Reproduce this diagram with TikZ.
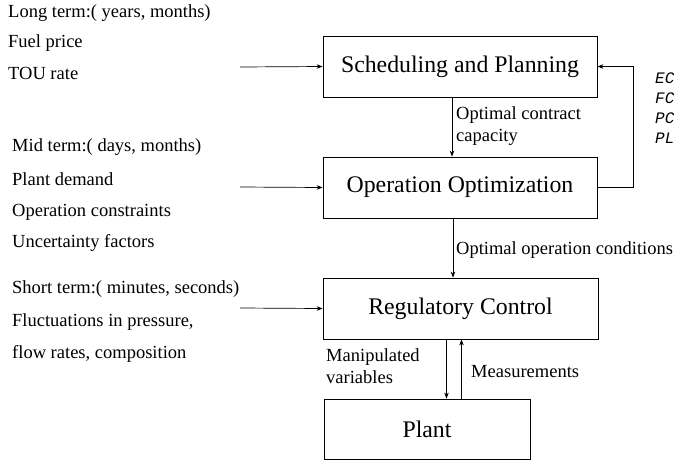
\documentclass[tikz,border=0pt]{standalone}
\usepackage{fontspec}
\setmainfont{Liberation Serif}
\setmonofont{Liberation Mono}
\usetikzlibrary{arrows.meta,calc,positioning}
\tikzstyle{block} = [draw=black, line width=0.8pt, minimum height=61pt, text centered, font=\fontsize{23.8}{26}\selectfont]
\tikzstyle{arrow} = [line width=0.7pt,-{Stealth[length=6pt,width=4.5pt]}]
\tikzstyle{note} = [anchor=west, inner sep=0pt, font=\fontsize{18.5}{22}\selectfont, align=left]
\tikzstyle{var} = [anchor=west, inner sep=0pt, font=\fontsize{16}{20}\ttfamily\itshape]

\begin{document}
\begin{tikzpicture}[x=1pt,y=-1pt]
\useasboundingbox (0,0) rectangle (676,464);
% blocks
\node (sp) [block, minimum width=274pt] at (460,66.5) {Scheduling and Planning};
\node (oo) [block, minimum width=274pt] at (460,187.5) {Operation Optimization};
\node (rc) [block, minimum width=275pt] at (460.5,308.5) {Regulatory Control};
\node (pl) [block, minimum width=206pt, minimum height=60pt] at (427,429) {Plant};
% inputs
\node (lt1) [note] at (8,13) {Long term:( years, months)};
\node (lt2) [note] at (8,43) {Fuel price};
\node (lt3) [note] at (8,73) {TOU rate};
\node (mt1) [note] at (12,147) {Mid term:( days, months)};
\node (mt2) [note] at (12,179) {Plant demand};
\node (mt3) [note] at (12,212) {Operation constraints};
\node (mt4) [note] at (12,243) {Uncertainty factors};
\node (st1) [note] at (12,289) {Short term:( minutes, seconds)};
\node (st2) [note] at (12,322) {Fluctuations in pressure,};
\node (st3) [note] at (12,354) {flow rates, composition};
\coordinate (in1) at (240,67);
\coordinate (in2) at (240,187);
\coordinate (in3) at (240,308);
\draw[arrow] (in1) -- (sp.west);
\draw[arrow] (in2) -- (oo.west);
\draw[arrow] (in3) -- (rc.west);
% links
\draw[arrow] ([xshift=-8pt]sp.south) -- ([xshift=-8pt]sp.south |- oo.north);
\draw[arrow] ([xshift=-7pt]oo.south) -- ([xshift=-7pt]oo.south |- rc.north);
\draw[arrow] ([xshift=-14pt]rc.south) -- ([xshift=-14pt]rc.south |- pl.north);
\draw[arrow] ([xshift=1pt]rc.south |- pl.north) -- ([xshift=1pt]rc.south);
\draw[arrow] (oo.east) -- ++(36,0) |- (sp.east);
% labels
\node (occ) [note] at (456,126) {Optimal contract\\capacity};
\node (ooc) [note] at (456,250) {Optimal operation conditions};
\node (mv) [note] at (326,366) {Manipulated\\variables};
\node (ms) [note] at (471,372) {Measurements};
\node (ec) [var] at (655,78) {EC};
\node (fc) [var] at (655,98) {FC};
\node (pc) [var] at (655,118) {PC};
\node (plv) [var] at (655,138) {PL};
\end{tikzpicture}
\end{document}
